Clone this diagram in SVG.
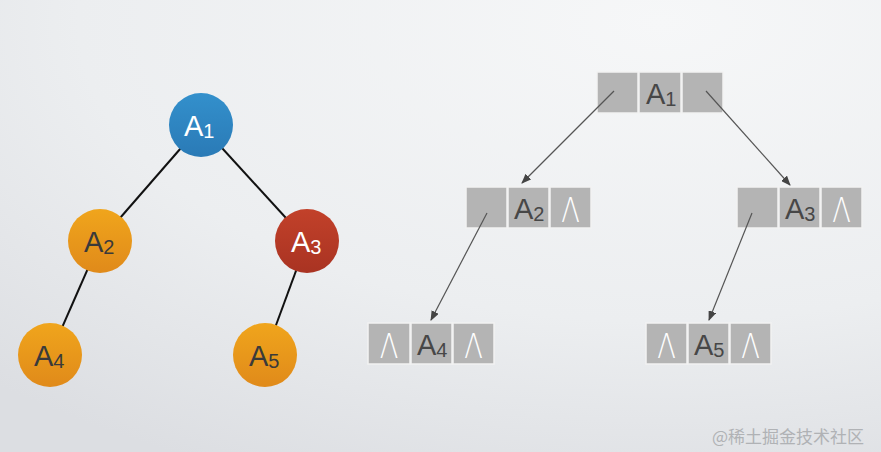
<svg xmlns="http://www.w3.org/2000/svg" width="881" height="452" viewBox="0 0 881 452">
<defs>
<radialGradient id="bg" cx="0.75" cy="0.05" r="1.1">
<stop offset="0" stop-color="#f6f7f8"/>
<stop offset="0.6" stop-color="#eceef0"/>
<stop offset="1" stop-color="#dcdee2"/>
</radialGradient>
<linearGradient id="gBlue" x1="0" y1="0" x2="0" y2="1"><stop offset="0" stop-color="#3390cc"/><stop offset="1" stop-color="#2a7ab6"/></linearGradient>
<linearGradient id="gOrange" x1="0" y1="0" x2="0" y2="1"><stop offset="0" stop-color="#f0a51c"/><stop offset="1" stop-color="#e08a1a"/></linearGradient>
<linearGradient id="gRed" x1="0" y1="0" x2="0" y2="1"><stop offset="0" stop-color="#c2412a"/><stop offset="1" stop-color="#a93322"/></linearGradient>
<marker id="ah" markerWidth="10" markerHeight="8" refX="9" refY="4" orient="auto" markerUnits="userSpaceOnUse">
<path d="M0,0 L10,4 L0,8 Z" fill="#444"/>
</marker>
<style>
.edge{stroke:#111;stroke-width:2;fill:none}
.arr{stroke:#555;stroke-width:1.2;fill:none;marker-end:url(#ah)}
.cell{fill:#b4b4b4;stroke:#f2f2f2;stroke-width:1.5}
.lbl{font-family:"Liberation Sans",Arial,sans-serif;font-size:29px}
.sub{font-size:20px}
.w{fill:#ffffff}
.d{fill:#3a3a3a}
.bx{fill:#474747}
.lam{font-family:"DejaVu Sans","Liberation Sans",sans-serif;font-size:34px;fill:#ffffff;font-weight:200}
</style>
</defs>
<rect width="881" height="452" fill="url(#bg)"/>
<g id="treeEdges">
<line class="edge" x1="201" y1="125" x2="100" y2="241"/>
<line class="edge" x1="201" y1="125" x2="307" y2="241"/>
<line class="edge" x1="100" y1="241" x2="50" y2="355"/>
<line class="edge" x1="307" y1="241" x2="265" y2="355"/>
</g>
<g id="nA1"><circle cx="201" cy="125" r="32" fill="url(#gBlue)"/><text class="lbl w" x="184" y="136">A<tspan class="sub" dy="2">1</tspan></text></g>
<g id="nA2"><circle cx="100" cy="241" r="32" fill="url(#gOrange)"/><text class="lbl d" x="84" y="252">A<tspan class="sub" dy="2">2</tspan></text></g>
<g id="nA3"><circle cx="307" cy="241" r="32" fill="url(#gRed)"/><text class="lbl w" x="291" y="252">A<tspan class="sub" dy="2">3</tspan></text></g>
<g id="nA4"><circle cx="50" cy="355" r="32" fill="url(#gOrange)"/><text class="lbl d" x="34" y="366">A<tspan class="sub" dy="2">4</tspan></text></g>
<g id="nA5"><circle cx="265" cy="355" r="32" fill="url(#gOrange)"/><text class="lbl d" x="249" y="366">A<tspan class="sub" dy="2">5</tspan></text></g>
<g id="bA1">
<rect class="cell" x="597" y="72" width="41" height="41"/>
<rect class="cell" x="639" y="72" width="42" height="41"/>
<rect class="cell" x="682" y="72" width="41" height="41"/>
<text class="lbl bx" x="646" y="104">A<tspan class="sub" dy="2">1</tspan></text>
</g>
<g id="bA2">
<rect class="cell" x="466" y="187" width="41" height="41"/>
<rect class="cell" x="508" y="187" width="41" height="41"/>
<rect class="cell" x="550" y="187" width="41" height="41"/>
<text class="lbl bx" x="514" y="219">A<tspan class="sub" dy="2">2</tspan></text>
<text class="lam" transform="translate(570.5,222) scale(0.8,1)" text-anchor="middle">Λ</text>
</g>
<g id="bA3">
<rect class="cell" x="737" y="187" width="41" height="41"/>
<rect class="cell" x="779" y="187" width="41" height="41"/>
<rect class="cell" x="821" y="187" width="41" height="41"/>
<text class="lbl bx" x="785" y="219">A<tspan class="sub" dy="2">3</tspan></text>
<text class="lam" transform="translate(841.5,222) scale(0.8,1)" text-anchor="middle">Λ</text>
</g>
<g id="bA4">
<rect class="cell" x="368" y="323" width="42" height="41"/>
<rect class="cell" x="411" y="323" width="41" height="41"/>
<rect class="cell" x="453" y="323" width="41" height="41"/>
<text class="lam" transform="translate(389,358) scale(0.8,1)" text-anchor="middle">Λ</text>
<text class="lbl bx" x="417" y="355">A<tspan class="sub" dy="2">4</tspan></text>
<text class="lam" transform="translate(473.5,358) scale(0.8,1)" text-anchor="middle">Λ</text>
</g>
<g id="bA5">
<rect class="cell" x="646" y="323" width="41" height="41"/>
<rect class="cell" x="688" y="323" width="41" height="41"/>
<rect class="cell" x="730" y="323" width="41" height="41"/>
<text class="lam" transform="translate(666.5,358) scale(0.8,1)" text-anchor="middle">Λ</text>
<text class="lbl bx" x="694" y="355">A<tspan class="sub" dy="2">5</tspan></text>
<text class="lam" transform="translate(750.5,358) scale(0.8,1)" text-anchor="middle">Λ</text>
</g>
<g id="pointers">
<line class="arr" x1="614" y1="91" x2="522" y2="183"/>
<line class="arr" x1="706" y1="91" x2="790" y2="185"/>
<line class="arr" x1="487" y1="213" x2="431" y2="320"/>
<line class="arr" x1="752" y1="213" x2="709" y2="320"/>
</g>
<text x="712" y="443" font-family="'Noto Sans CJK SC',sans-serif" font-size="17" fill="#b0b2b5">@稀土掘金技术社区</text>
</svg>
